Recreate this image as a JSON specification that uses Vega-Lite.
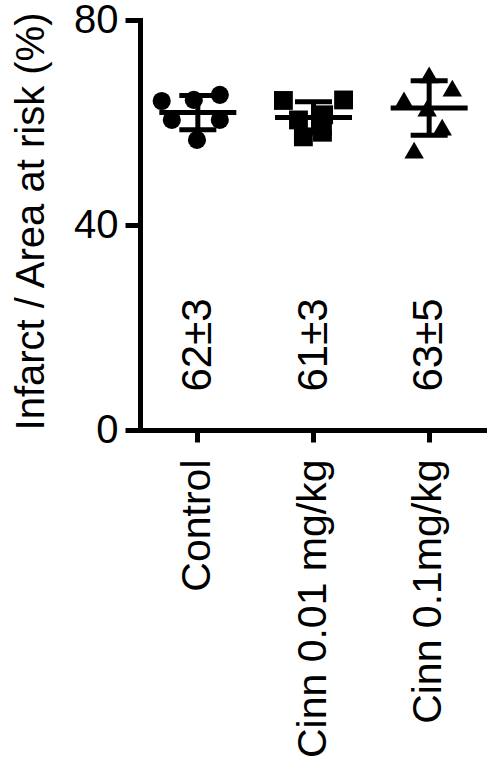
{
  "$schema": "https://vega.github.io/schema/vega-lite/v6.json",
  "width": 347,
  "height": 410,
  "autosize": {"type": "none"},
  "padding": {"left": 140, "top": 20, "right": 0, "bottom": 335},
  "background": "white",
  "config": {"view": {"stroke": null}, "font": "Liberation Sans"},
  "datasets": {
    "points": [
      {"group": "Control", "value": 64.2, "dx": -1.25},
      {"group": "Control", "value": 64.4, "dx": -0.14},
      {"group": "Control", "value": 65.4, "dx": 0.76},
      {"group": "Control", "value": 60.5, "dx": -0.9},
      {"group": "Control", "value": 60.5, "dx": 0.76},
      {"group": "Control", "value": 56.6, "dx": -0.03},
      {"group": "Cinn 0.01 mg/kg", "value": 64.3, "dx": -1.04},
      {"group": "Cinn 0.01 mg/kg", "value": 64.4, "dx": 1.04},
      {"group": "Cinn 0.01 mg/kg", "value": 60.5, "dx": -0.52},
      {"group": "Cinn 0.01 mg/kg", "value": 61.5, "dx": 0.35},
      {"group": "Cinn 0.01 mg/kg", "value": 57.2, "dx": -0.35},
      {"group": "Cinn 0.01 mg/kg", "value": 58.1, "dx": 0.31},
      {"group": "Cinn 0.1mg/kg", "value": 69.3, "dx": 0.0},
      {"group": "Cinn 0.1mg/kg", "value": 66.7, "dx": 0.8},
      {"group": "Cinn 0.1mg/kg", "value": 64.4, "dx": -0.87},
      {"group": "Cinn 0.1mg/kg", "value": 62.8, "dx": -0.07},
      {"group": "Cinn 0.1mg/kg", "value": 59.1, "dx": 0.45},
      {"group": "Cinn 0.1mg/kg", "value": 54.6, "dx": -0.52}
    ],
    "labels": [
      {"group": "Control", "text": "62±3"},
      {"group": "Cinn 0.01 mg/kg", "text": "61±3"},
      {"group": "Cinn 0.1mg/kg", "text": "63±5"}
    ]
  },
  "encoding": {
    "x": {
      "field": "group",
      "type": "nominal",
      "sort": ["Control", "Cinn 0.01 mg/kg", "Cinn 0.1mg/kg"],
      "scale": {"type": "band", "paddingInner": 0, "paddingOuter": 0},
      "axis": {
        "title": null,
        "labelAngle": 270,
        "labelFontSize": 41,
        "labelColor": "black",
        "labelPadding": 17,
        "labelLimit": 0,
        "tickSize": 12,
        "tickWidth": 5,
        "tickColor": "black",
        "domainWidth": 5,
        "domainColor": "black",
        "domainCap": "square",
        "grid": false
      }
    }
  },
  "layer": [
    {
      "data": {"name": "points"},
      "mark": {"type": "point", "filled": true, "opacity": 1, "color": "black", "strokeWidth": 0},
      "encoding": {
        "y": {
          "field": "value",
          "type": "quantitative",
          "title": "Infarct / Area at risk (%)",
          "scale": {"domain": [0, 80], "nice": false},
          "axis": {
            "values": [0, 40, 80],
            "titleFontSize": 40,
            "titleFontWeight": "normal",
            "titleColor": "black",
            "titleX": -97,
            "titleY": 201,
            "titleAngle": 270,
            "titleAlign": "center",
            "titleBaseline": "alphabetic",
            "labelFontSize": 40,
            "labelColor": "black",
            "labelPadding": 7,
            "tickSize": 15,
            "tickWidth": 5,
            "tickColor": "black",
            "domainWidth": 5,
            "domainColor": "black",
            "domainCap": "square",
            "grid": false
          }
        },
        "xOffset": {"field": "dx", "type": "quantitative", "scale": {"domain": [-2, 2]}},
        "shape": {
          "field": "group",
          "type": "nominal",
          "scale": {"domain": ["Control", "Cinn 0.01 mg/kg", "Cinn 0.1mg/kg"], "range": ["circle", "square", "triangle-up"]},
          "legend": null
        },
        "size": {
          "field": "group",
          "type": "nominal",
          "scale": {"domain": ["Control", "Cinn 0.01 mg/kg", "Cinn 0.1mg/kg"], "range": [330, 380, 520]},
          "legend": null
        }
      }
    },
    {
      "data": {"name": "points"},
      "mark": {"type": "tick", "size": 77, "thickness": 5, "color": "black", "opacity": 1},
      "encoding": {
        "y": {"aggregate": "mean", "field": "value", "type": "quantitative", "title": "Infarct / Area at risk (%)"}
      }
    },
    {
      "data": {"name": "points"},
      "mark": {
        "type": "errorbar",
        "extent": "stdev",
        "color": "black",
        "rule": {"strokeWidth": 5, "color": "black"},
        "ticks": {"size": 37, "thickness": 5, "color": "black", "opacity": 1}
      },
      "encoding": {
        "y": {"field": "value", "type": "quantitative", "title": "Infarct / Area at risk (%)"}
      }
    },
    {
      "data": {"name": "labels"},
      "mark": {"type": "text", "angle": 270, "fontSize": 42, "align": "center", "baseline": "middle", "color": "black"},
      "encoding": {
        "y": {"datum": 16.6, "type": "quantitative"},
        "text": {"field": "text"}
      }
    }
  ]
}
